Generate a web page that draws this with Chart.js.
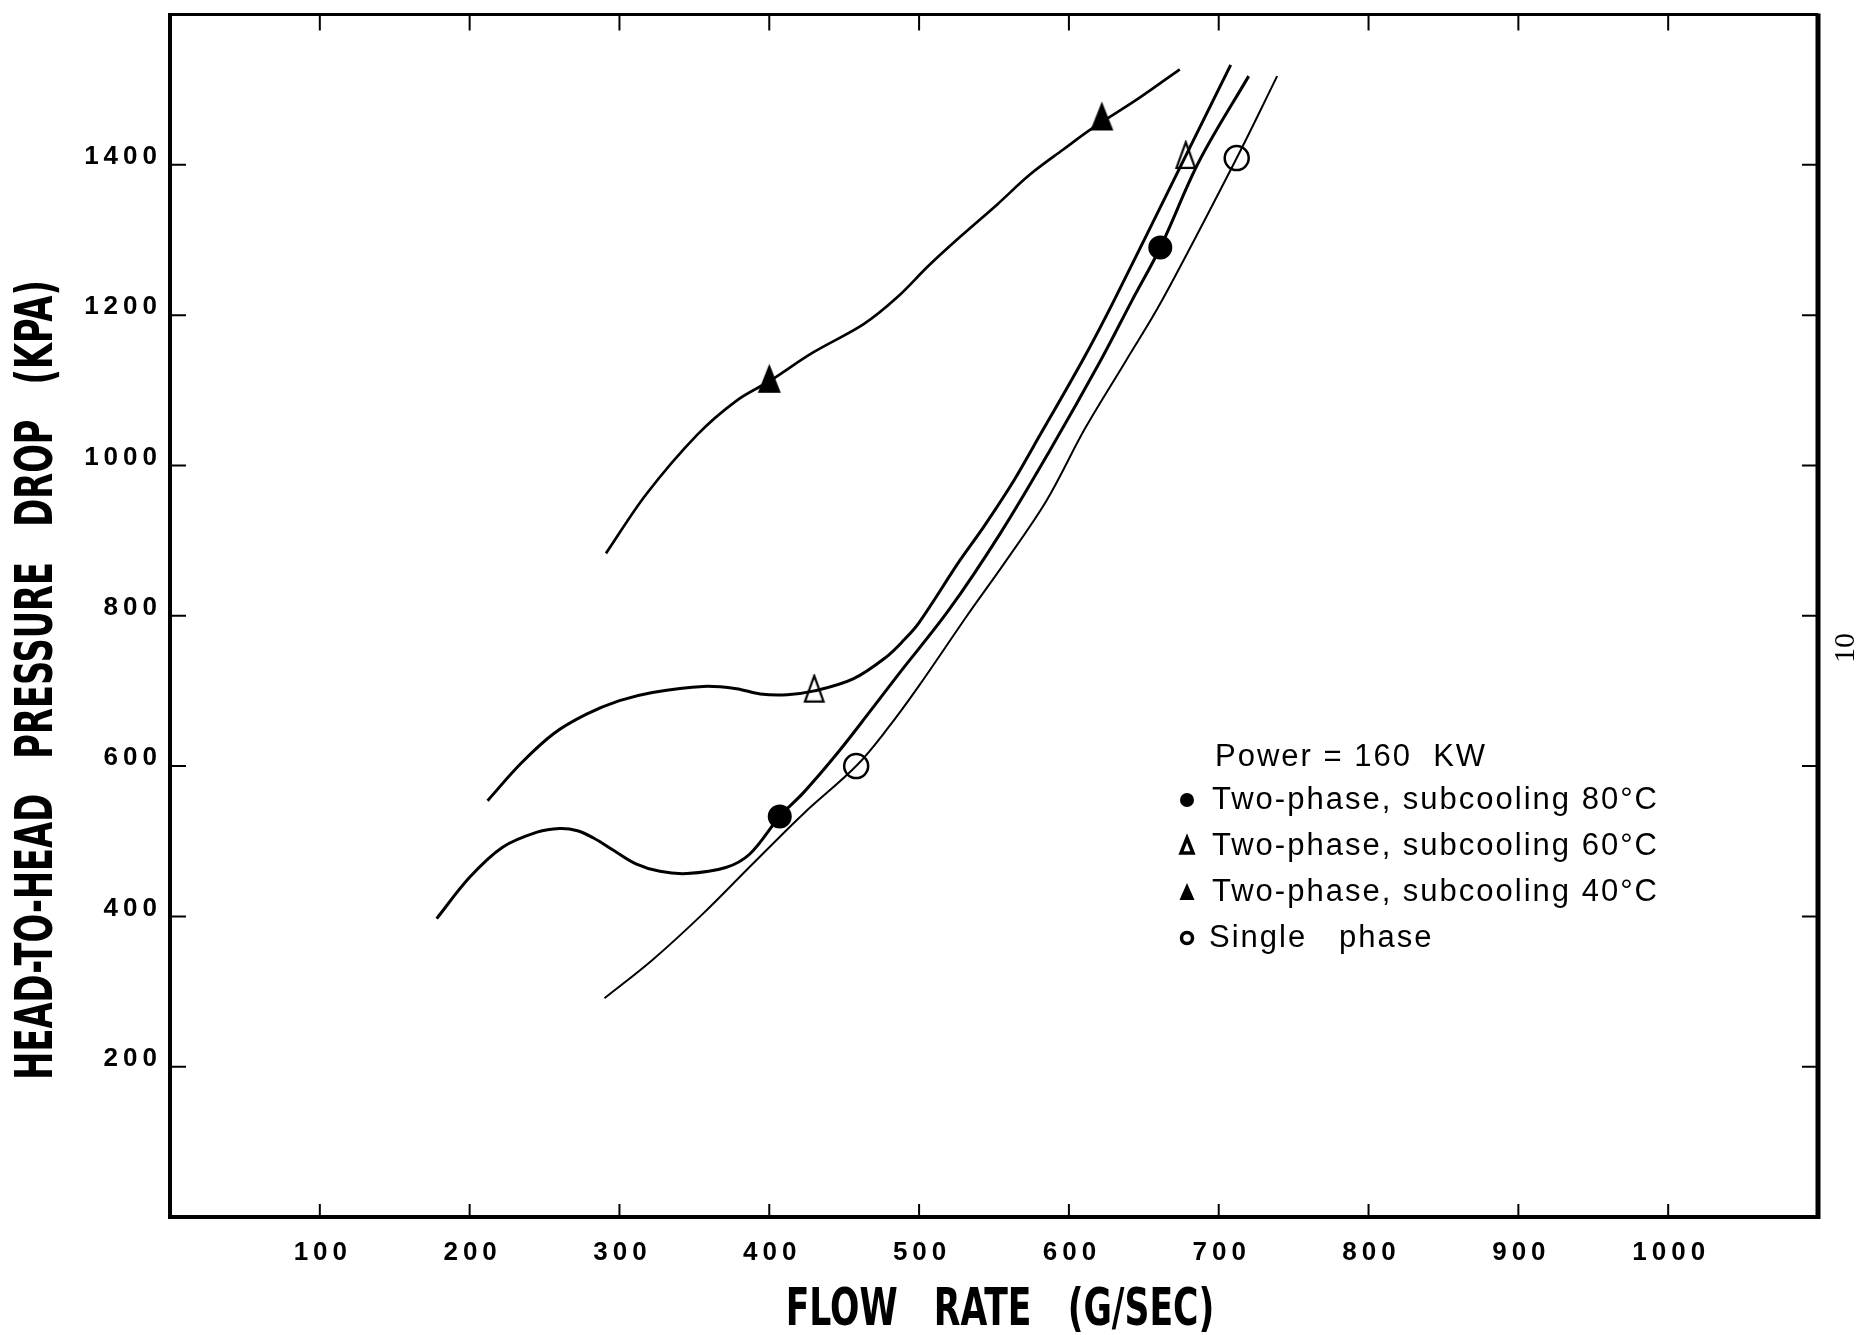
<!DOCTYPE html>
<html>
<head>
<meta charset="utf-8">
<title>Head-to-head pressure drop vs flow rate</title>
<script src="https://cdn.jsdelivr.net/npm/chart.js@4.4.1/dist/chart.umd.min.js"></script>
<style>
  html, body { margin: 0; padding: 0; background: #fff; }
  #wrap { width: 1867px; height: 1335px; }
</style>
</head>
<body>
<div id="wrap"><canvas id="chart" width="1867" height="1335"></canvas></div>
<script>
// Values: flow rate (g/s) and pressure drop (kPa)
const flow80 = [178, 200, 222, 245, 260, 272, 283, 296, 311, 327, 345, 371, 387, 407, 423, 445, 467, 487, 520, 554, 587, 621, 642, 661, 687, 720];
const drop80 = [397, 452, 492, 512, 517, 514, 504, 488, 470, 460, 457, 465, 483, 533, 565, 616, 672, 724, 808, 909, 1019, 1139, 1219, 1290, 1405, 1518];

const flow60 = [212, 234, 256, 278, 300, 322, 356, 378, 394, 412, 430, 456, 478, 490, 500, 527, 543, 563, 576, 610, 630, 674, 708];
const drop60 = [554, 603, 643, 669, 687, 698, 706, 703, 696, 695, 700, 716, 745, 768, 791, 873, 918, 979, 1024, 1143, 1219, 1396, 1533];

const flow40 = [291, 318, 352, 378, 400, 429, 463, 485, 507, 529, 552, 574, 596, 616, 647, 674];
const drop40 = [883, 962, 1041, 1086, 1112, 1150, 1188, 1223, 1267, 1307, 1347, 1387, 1420, 1449, 1489, 1527];

const flowSingle = [290, 322, 356, 389, 423, 458, 479, 500, 532, 558, 585, 611, 638, 662, 712, 739];
const dropSingle = [291, 342, 404, 470, 537, 600, 650, 707, 800, 873, 953, 1050, 1139, 1219, 1409, 1518];

// measured points (symbols)
const mark80X = [407, 661];
const mark80Y = [533, 1290];
const mark60X = [430, 678];
const mark60Y = [703, 1413];
const mark40X = [400, 622];
const mark40Y = [1116, 1465];
const markSingleX = [458, 712];
const markSingleY = [600, 1409];

const xTickValues = [100, 200, 300, 400, 500, 600, 700, 800, 900, 1000];
const yTickValues = [200, 400, 600, 800, 1000, 1200, 1400];

const xTitle = 'FLOW   RATE   (G/SEC)';
const yTitle = 'HEAD-TO-HEAD   PRESSURE   DROP   (KPA)';
const legendTitle = 'Power = 160  KW';
const legendLabels = ['Two-phase, subcooling 80°C', 'Two-phase, subcooling 60°C', 'Two-phase, subcooling 40°C', 'Single   phase'];
const pageNumber = '10';

function toPoints(xs, ys) {
  return xs.map((x, i) => ({ x: x, y: ys[i] }));
}

// tall isoceles triangle used as a point style
function makeTriangle(w, h, filled, lw) {
  const c = document.createElement('canvas');
  c.width = w + lw * 2;
  c.height = h + lw * 2;
  const g = c.getContext('2d');
  g.beginPath();
  g.moveTo(c.width / 2, lw);
  g.lineTo(c.width - lw, c.height - lw);
  g.lineTo(lw, c.height - lw);
  g.closePath();
  if (filled) {
    g.fillStyle = '#000';
    g.fill();
  } else {
    g.lineWidth = lw;
    g.strokeStyle = '#000';
    g.stroke();
  }
  return c;
}

const triFilled = makeTriangle(23, 29, true, 1);
const triOpen = makeTriangle(19, 26, false, 2.2);

function curve(xs, ys, width) {
  return {
    data: toPoints(xs, ys),
    showLine: true,
    borderColor: '#000',
    borderWidth: width,
    pointRadius: 0,
    tension: 0.35,
    fill: false
  };
}

const paperPlugin = {
  id: 'paper',
  beforeDraw(chart) {
    // spaced digits for the tick labels
    chart.ctx.letterSpacing = '5px';
  },
  afterDraw(chart) {
    const ctx = chart.ctx;
    const a = chart.chartArea;
    const xs = chart.scales.x;
    const ys = chart.scales.y;
    ctx.save();
    ctx.letterSpacing = '0px';
    ctx.strokeStyle = '#000';
    ctx.fillStyle = '#000';

    // top and right frame
    ctx.lineWidth = 3;
    ctx.beginPath();
    ctx.moveTo(a.left - 2, a.top);
    ctx.lineTo(a.right, a.top);
    ctx.stroke();
    ctx.lineWidth = 5;
    ctx.beginPath();
    ctx.moveTo(a.right, a.top - 1);
    ctx.lineTo(a.right, a.bottom + 2);
    ctx.stroke();

    // inward tick marks
    ctx.lineWidth = 2;
    ctx.beginPath();
    xTickValues.forEach(v => {
      const px = xs.getPixelForValue(v);
      ctx.moveTo(px, a.bottom);
      ctx.lineTo(px, a.bottom - 13);
      ctx.moveTo(px, a.top);
      ctx.lineTo(px, a.top + 16);
    });
    yTickValues.forEach(v => {
      const py = ys.getPixelForValue(v);
      ctx.moveTo(a.left, py);
      ctx.lineTo(a.left + 16, py);
      ctx.moveTo(a.right, py);
      ctx.lineTo(a.right - 16, py);
    });
    ctx.stroke();

    // axis titles in a condensed face
    ctx.textAlign = 'center';
    ctx.textBaseline = 'middle';
    ctx.font = 'bold 52px "Liberation Sans Narrow", "DejaVu Sans Condensed", sans-serif';
    ctx.save();
    ctx.translate(1000, 1311);
    ctx.scale(0.74, 1);
    ctx.fillText(xTitle, 0, 0);
    ctx.restore();
    ctx.save();
    ctx.translate(38, 680);
    ctx.rotate(-Math.PI / 2);
    ctx.scale(0.72, 1);
    ctx.fillText(yTitle, 0, 0);
    ctx.restore();

    // legend block
    ctx.textAlign = 'left';
    ctx.font = '31px "Liberation Sans", Arial, sans-serif';
    ctx.letterSpacing = '2px';
    ctx.fillText(legendTitle, 1215, 757);
    const rows = [800, 846, 892, 938];
    legendLabels.forEach((t, i) => ctx.fillText(t, i === 3 ? 1209 : 1212, rows[i]));
    ctx.letterSpacing = '0px';
    const mx = 1187;
    ctx.beginPath();
    ctx.arc(mx, rows[0], 7, 0, Math.PI * 2);
    ctx.fill();
    ctx.lineWidth = 3.5;
    ctx.beginPath();
    ctx.moveTo(mx, rows[1] - 8);
    ctx.lineTo(mx + 6, rows[1] + 7);
    ctx.lineTo(mx - 6, rows[1] + 7);
    ctx.closePath();
    ctx.stroke();
    ctx.beginPath();
    ctx.moveTo(mx, rows[2] - 9);
    ctx.lineTo(mx + 7.5, rows[2] + 8);
    ctx.lineTo(mx - 7.5, rows[2] + 8);
    ctx.closePath();
    ctx.fill();
    ctx.lineWidth = 3.5;
    ctx.beginPath();
    ctx.arc(mx, rows[3], 5.5, 0, Math.PI * 2);
    ctx.stroke();

    // page number on the margin
    ctx.save();
    ctx.translate(1846, 648);
    ctx.rotate(-Math.PI / 2);
    ctx.textAlign = 'center';
    ctx.font = '30px "Liberation Serif", serif';
    ctx.fillText(pageNumber, 0, 0);
    ctx.restore();

    ctx.restore();
  }
};

const tickFont = { family: '"Liberation Sans", Arial, sans-serif', size: 26, weight: 'bold' };

new Chart(document.getElementById('chart'), {
  type: 'scatter',
  data: {
    datasets: [
      { data: toPoints(mark80X, mark80Y), pointStyle: 'circle', pointRadius: 12, backgroundColor: '#000', borderWidth: 0 },
      { data: toPoints(markSingleX, markSingleY), pointStyle: 'circle', pointRadius: 12, backgroundColor: 'rgba(0,0,0,0)', borderColor: '#000', borderWidth: 2.5 },
      { data: toPoints(mark60X, mark60Y), pointStyle: triOpen, pointRadius: 12 },
      { data: toPoints(mark40X, mark40Y), pointStyle: triFilled, pointRadius: 12 },
      curve(flow80, drop80, 3),
      curve(flow60, drop60, 3),
      curve(flow40, drop40, 2.7),
      curve(flowSingle, dropSingle, 2)
    ]
  },
  options: {
    responsive: false,
    animation: false,
    layout: { padding: { left: 0, right: 49, top: 13, bottom: 0 } },
    plugins: { legend: { display: false }, tooltip: { enabled: false } },
    scales: {
      x: {
        type: 'linear',
        min: 0,
        max: 1100,
        afterFit: s => { s.height = 118; s.paddingLeft = 0; s.paddingRight = 0; },
        grid: { display: false, drawTicks: false },
        border: { display: true, color: '#000', width: 4 },
        ticks: {
          stepSize: 100,
          autoSkip: false,
          maxRotation: 0,
          padding: 20,
          labelOffset: 3,
          color: '#000',
          font: tickFont,
          callback: v => xTickValues.includes(v) ? String(v) : null
        }
      },
      y: {
        type: 'linear',
        min: 0,
        max: 1600,
        afterFit: s => { s.width = 170; s.paddingTop = 0; s.paddingBottom = 0; },
        grid: { display: false, drawTicks: false },
        border: { display: true, color: '#000', width: 4 },
        ticks: {
          stepSize: 200,
          autoSkip: false,
          padding: 8,
          labelOffset: -8,
          color: '#000',
          font: tickFont,
          callback: v => yTickValues.includes(v) ? String(v) : null
        }
      }
    }
  },
  plugins: [paperPlugin]
});
</script>
</body>
</html>
